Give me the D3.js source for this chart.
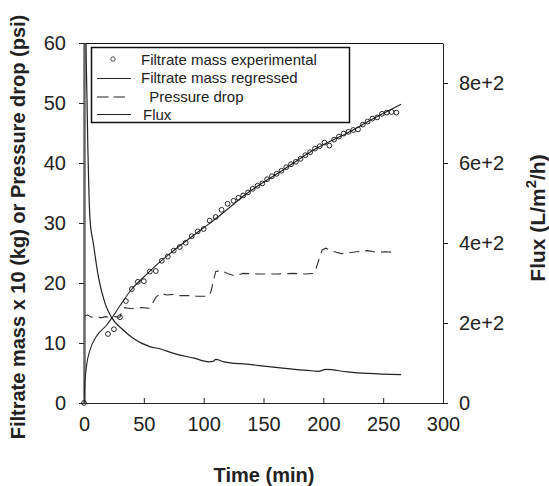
<!DOCTYPE html>
<html>
<head>
<meta charset="utf-8">
<script src="https://cdn.jsdelivr.net/npm/d3@7"></script>
<style>
  body { margin: 0; background: #fff; }
  svg { font-family: "Liberation Sans", Arial, sans-serif; }
</style>
</head>
<body>
<div id="chart"></div>
<script>
// Size of the whole picture
let width = 549;
let height = 486;

// Filtrate mass experimental (time in min, mass x 10 in kg)
let expTime = [0, 20, 25, 30, 35, 40, 45, 50, 55, 60, 65, 70, 75, 80, 85, 90, 95, 100, 105, 110, 115, 120, 125,
  129, 133, 137, 141, 145, 149, 153, 157, 161, 165, 169, 173, 177, 181, 185, 189, 193, 197, 201, 205,
  209, 213, 217, 221, 225, 229, 233, 237, 241, 245, 249, 253, 257, 261];
let expMass = [0, 11.5, 12.3, 14.3, 17.0, 19.0, 20.2, 20.3, 21.9, 22.0, 23.7, 24.4, 25.4, 26.0, 26.7, 27.8, 28.6, 29.0, 30.4, 31.0, 32.2, 33.2, 33.7,
  34.2, 34.6, 35.1, 35.7, 36.2, 36.6, 37.3, 37.8, 38.2, 38.7, 39.3, 39.8, 40.2, 40.7, 41.3, 41.8, 42.4, 42.8, 43.4, 42.9,
  43.9, 44.4, 44.9, 45.2, 45.5, 45.6, 46.4, 46.9, 47.4, 47.6, 48.2, 48.4, 48.5, 48.4];

// Filtrate mass regressed
let regTime = [0, 0.5, 2, 5, 10, 19, 23, 30, 40, 50, 60, 70, 80, 90, 100, 110, 138, 166, 194, 222, 240, 265];
let regMass = [0, 2.5, 6, 8.8, 11, 13, 14.1, 16.2, 19, 21, 22.9, 24.6, 26.2, 27.7, 29.2, 30.7, 35.2, 38.8, 42.4, 45.2, 47.2, 49.8];

// Pressure drop (psi)
let dpTime = [0, 3, 6, 10, 14, 18, 22, 26, 30, 32, 34, 40, 48, 55, 57, 60, 64, 69, 75, 80, 88, 94, 104, 106, 110, 114,
  120, 126, 133, 145, 161, 175, 185, 192, 194, 199, 202, 208, 215, 228, 237, 245, 252, 260];
let dpValue = [14.4, 14.7, 14.3, 14.5, 14.2, 14.4, 14.3, 14.4, 14.3, 15.5, 15.9, 15.7, 15.9, 15.8, 16.5, 17.6, 18.3, 18.0, 18.1, 17.9, 17.9, 17.8, 17.8, 18.5, 21.9, 22.1,
  21.6, 21.2, 21.6, 21.5, 21.5, 21.6, 21.5, 21.6, 22.5, 25.5, 25.8, 25.3, 24.9, 25.2, 25.4, 25.1, 25.2, 25.1];

// Flux (L/m2/h), right axis
let fluxTime = [0.3, 1, 1.7, 2.5, 3.2, 4, 5, 7.8, 12, 17.6, 23, 33, 41, 55, 64, 75, 92, 104, 108, 110, 117, 136, 164, 192, 196, 202, 220, 237, 265];
let fluxValue = [3000, 1200, 900, 760, 640, 540, 460, 399, 316, 249, 214, 182, 162, 141, 135, 124, 112, 103, 104, 109, 103, 97, 88, 80, 79, 84, 78, 74, 71];

// Ticks
let xTicks = [0, 50, 100, 150, 200, 250, 300];
let leftTicks = [0, 10, 20, 30, 40, 50, 60];
let rightTicks = [0, 200, 400, 600, 800];
let rightTickLabels = ["0", "2e+2", "4e+2", "6e+2", "8e+2"];

let legendLabels = ["Filtrate mass experimental", "Filtrate mass regressed", "  Pressure drop", "Flux"];

// Plot area
let x0 = 84, x1 = 443, y0 = 403, y1 = 43;

let x = d3.scaleLinear().domain([0, 300]).range([x0, x1]);
let yLeft = d3.scaleLinear().domain([0, 60]).range([y0, y1]);
let yRight = d3.scaleLinear().domain([0, 900]).range([y0, y1]);

let svg = d3.select('#chart')
  .append('svg')
  .attr('width', width)
  .attr('height', height);

svg.append('rect').attr('width', width).attr('height', height).attr('fill', '#fff');

svg.append('clipPath').attr('id', 'plotclip')
  .append('rect')
  .attr('x', x0).attr('y', y1)
  .attr('width', x1 - x0).attr('height', y0 - y1);

// Top frame line
svg.append('line')
  .attr('x1', x0 - 4).attr('x2', x1)
  .attr('y1', y1 + 0.5).attr('y2', y1 + 0.5)
  .attr('stroke', '#111').attr('stroke-width', 1);

// Axes
let bottomAxis = svg.append('g')
  .attr('transform', 'translate(0,' + y0 + ')')
  .call(d3.axisBottom(x).tickValues(xTicks).tickSizeInner(-5).tickSizeOuter(0).tickPadding(14));

let leftAxis = svg.append('g')
  .attr('transform', 'translate(' + x0 + ',0)')
  .call(d3.axisLeft(yLeft).tickValues(leftTicks).tickSizeInner(5).tickSizeOuter(0).tickPadding(13));

let rightAxis = svg.append('g')
  .attr('transform', 'translate(' + x1 + ',0)')
  .call(d3.axisRight(yRight).tickValues(rightTicks).tickSizeInner(5).tickSizeOuter(0).tickPadding(11)
    .tickFormat(function(d, i){ return rightTickLabels[i]; }));

[bottomAxis, leftAxis, rightAxis].forEach(function(a){
  a.selectAll('text').attr('font-size', 20).attr('fill', '#222').attr('font-family', '"Liberation Sans", Arial, sans-serif');
  a.selectAll('line').attr('stroke', '#222');
  a.select('.domain').attr('stroke', '#222');
});
leftAxis.select('.domain').attr('stroke', '#666').attr('stroke-width', 2.5);
bottomAxis.select('.domain').attr('d', 'M' + (x0 - 4) + ',0.5H' + (x1 + 4));

// Data layers
let plot = svg.append('g').attr('clip-path', 'url(#plotclip)');

let regLine = d3.line()
  .x(function(d, i){ return x(regTime[i]); })
  .y(function(d){ return yLeft(d); })
  .curve(d3.curveMonotoneX);

let dpLine = d3.line()
  .x(function(d, i){ return x(dpTime[i]); })
  .y(function(d){ return yLeft(d); });

let fluxLine = d3.line()
  .x(function(d, i){ return x(fluxTime[i]); })
  .y(function(d){ return yRight(d); })
  .curve(d3.curveMonotoneX);

plot.append('path')
  .attr('d', fluxLine(fluxValue))
  .attr('fill', 'none').attr('stroke', '#222').attr('stroke-width', 1.2);

plot.append('path')
  .attr('d', dpLine(dpValue))
  .attr('fill', 'none').attr('stroke', '#333').attr('stroke-width', 1.1)
  .attr('stroke-dasharray', '10,6');

plot.append('path')
  .attr('d', regLine(regMass))
  .attr('fill', 'none').attr('stroke', '#222').attr('stroke-width', 1.1);

svg.append('g').selectAll('circle')
  .data(expMass)
  .enter()
  .append('circle')
  .attr('cx', function(d, i){ return x(expTime[i]); })
  .attr('cy', function(d){ return yLeft(d); })
  .attr('r', 2.4)
  .attr('fill', 'none')
  .attr('stroke', '#111')
  .attr('stroke-width', 0.9);

// Legend
let legend = svg.append('g');
legend.append('rect')
  .attr('x', 91.5).attr('y', 47.5)
  .attr('width', 258).attr('height', 75)
  .attr('fill', '#fff').attr('stroke', '#111').attr('stroke-width', 1.5);

let rowY = [64.5, 83, 101.5, 120];
let symY = [59, 78.5, 97, 114.5];
let textX = [141, 141, 141, 143];

legend.append('circle')
  .attr('cx', 113).attr('cy', symY[0]).attr('r', 2.2)
  .attr('fill', 'none').attr('stroke', '#222').attr('stroke-width', 0.8);
legend.append('line')
  .attr('x1', 97).attr('x2', 131).attr('y1', symY[1]).attr('y2', symY[1])
  .attr('stroke', '#222').attr('stroke-width', 1.1);
legend.append('line')
  .attr('x1', 97).attr('x2', 125).attr('y1', symY[2]).attr('y2', symY[2])
  .attr('stroke', '#222').attr('stroke-width', 1.1).attr('stroke-dasharray', '11.5,5');
legend.append('line')
  .attr('x1', 97).attr('x2', 131).attr('y1', symY[3]).attr('y2', symY[3])
  .attr('stroke', '#222').attr('stroke-width', 1.1);

legend.selectAll('text')
  .data(legendLabels)
  .enter()
  .append('text')
  .attr('x', function(d, i){ return textX[i]; })
  .attr('y', function(d, i){ return rowY[i]; })
  .attr('font-size', 15)
  .attr('fill', '#222')
  .style('white-space', 'pre')
  .text(function(d){ return d; });

// Axis titles
svg.append('text')
  .attr('x', 264).attr('y', 482)
  .attr('text-anchor', 'middle')
  .attr('font-size', 20).attr('font-weight', 'bold').attr('fill', '#222')
  .text('Time (min)');

svg.append('text')
  .attr('transform', 'translate(25,227) rotate(-90)')
  .attr('text-anchor', 'middle')
  .attr('font-size', 20).attr('font-weight', 'bold').attr('fill', '#222')
  .text('Filtrate mass x 10 (kg) or Pressure drop (psi)');

let rightTitle = svg.append('text')
  .attr('transform', 'translate(545,218) rotate(-90)')
  .attr('text-anchor', 'middle')
  .attr('font-size', 21).attr('font-weight', 'bold').attr('fill', '#222');
rightTitle.append('tspan').text('Flux (L/m');
rightTitle.append('tspan').attr('dy', -9).attr('font-size', 15).text('2');
rightTitle.append('tspan').attr('dy', 9).text('/h)');
</script>
</body>
</html>
